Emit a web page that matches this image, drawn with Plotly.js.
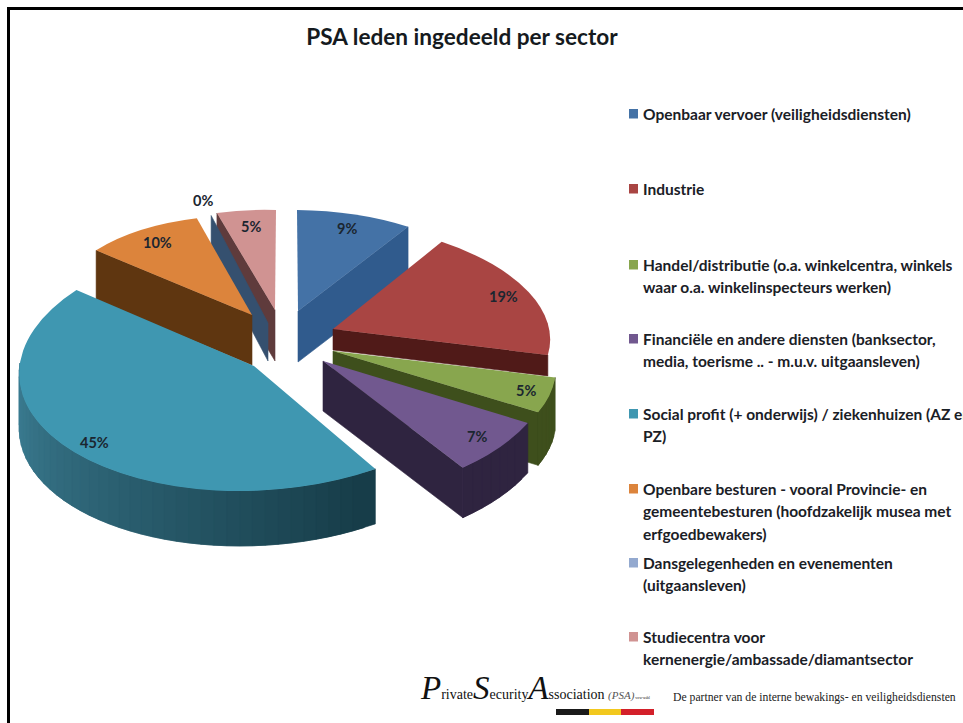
<!DOCTYPE html>
<html><head><meta charset="utf-8">
<script src="https://cdn.plot.ly/plotly-3.0.1.min.js"></script>
<style>html,body{margin:0;padding:0;background:#fff;overflow:hidden}#c{width:963px;height:723px}</style>
</head><body><div id="c"></div><script>
const categories = [
 "Openbaar vervoer (veiligheidsdiensten)",
 "Industrie",
 "Handel/distributie (o.a. winkelcentra, winkels<br>waar o.a. winkelinspecteurs werken)",
 "Financiële en andere diensten (banksector,<br>media, toerisme .. - m.u.v. uitgaansleven)",
 "Social profit (+ onderwijs) / ziekenhuizen (AZ en<br>PZ)",
 "Openbare besturen - vooral Provincie- en<br>gemeentebesturen (hoofdzakelijk musea met<br>erfgoedbewakers)",
 "Dansgelegenheden en evenementen<br>(uitgaansleven)",
 "Studiecentra voor<br>kernenergie/ambassade/diamantsector"
];
const values = [9, 19, 5, 7, 45, 10, 0, 5];
const topColors = ["#4472a6","#a94543","#88a64e","#71588f","#3f97b1","#dc843c","#93a9cf","#d09392"];
const legendY = [114, 189, 265, 339, 414, 489, 563, 637];

// Per-slice 3D projection of the exploded pie
const proj = [
 {ax:298,ay:311,rx:207,k:1,s:2,ry:101,d:51,lf:.86},
 {ax:333,ay:329,rx:217,k:9,s:6,ry:107,d:21,lf:.87},
 {ax:333,ay:351,rx:222,k:22,s:4,ry:120,d:53,lf:.89},
 {ax:323,ay:361,rx:231,k:5,s:-3,ry:134,d:50,lf:.87},
 {ax:254,ay:366,rx:234,k:-20,s:3,ry:125,d:55,lf:.89},
 {ax:252,ay:315,rx:197,k:-6,s:8,ry:99,d:50,lf:.85},
 {ax:268,ay:323,rx:184,k:0,s:0,ry:113,d:38,lf:1.14},
 {ax:275,ay:310,rx:191,k:-1,s:6,ry:100,d:51,lf:.84}
];
const total = values.reduce((a,b)=>a+b,0);
let acc = 0;
const spans = values.map(v=>{const a=acc/total*2*Math.PI; acc+=v; return [a,acc/total*2*Math.PI];});
const pt = (i,t,f=1,dz=0)=>{const g=proj[i],u=Math.sin(t),v=-Math.cos(t);
  return [g.ax+f*(g.rx*u+g.k*v), g.ay+f*(g.s*u+g.ry*v)+dz];};
const traces = [];
function poly(pts,color){
  traces.push({type:'scatter',mode:'lines',x:pts.map(p=>p[0]),y:pts.map(p=>p[1]),fill:'toself',fillcolor:color,
    line:{color:color,width:0.6},hoverinfo:'skip',showlegend:false,xaxis:'x',yaxis:'y'});
}
function cut(i,t,color){const d=proj[i].d; const a=pt(i,t,0),b=pt(i,t,1);
  poly([a,b,[b[0],b[1]+d],[a[0],a[1]+d],a],color);}
function arc(i,t0,t1,c0,c1,n){const d=proj[i].d;
  const mix=(f)=>{const q=c0.map((c,j)=>Math.round(c+(c1[j]-c)*f));return `rgb(${q[0]},${q[1]},${q[2]})`;};
  // painted from the far end, each band overlapping the one before it, so no seams show
  for(let j=n-1;j>=0;j--){const a=t0+(t1-t0)*j/n,b=t0+(t1-t0)*(j+2)/n,m=t0+(t1-t0)*(j+1)/n;
    const bb=b>t1?t1:b;const A=pt(i,a),M=pt(i,m),B=pt(i,bb);
    poly([A,M,B,[B[0],B[1]+d],[M[0],M[1]+d],[A[0],A[1]+d],A],mix((j+.5)/n));}
}
// side walls, back to front
cut(0,spans[0][1],"#305b8d");
cut(1,spans[1][1],"#501a18");
cut(2,spans[2][1],"#3e4f1c");
arc(2,spans[2][0],spans[2][1],[62,79,28],[62,79,28],6);
cut(3,spans[3][1],"#2f2440");
arc(3,spans[3][0],spans[3][1],[47,36,64],[47,36,64],8);
arc(4,spans[4][0],3*Math.PI/2,[23,60,72],[62,130,152],40);
cut(7,spans[7][0],"#5f3b3c");
cut(6,spans[6][0],"#35506f");
cut(5,spans[5][0],"#5f3610");

// the pie supplies the top faces
traces.push({type:'pie',labels:categories.map(c=>c.replace(/<br>/g,' ')),values:values,sort:false,direction:'clockwise',rotation:0,
  marker:{colors:topColors,line:{width:0}},textinfo:'none',domain:{x:[.2,.4],y:[.4,.6]},showlegend:false,hoverinfo:'label+percent'});

const FONT="Lato, 'Open Sans', sans-serif";
const annotations=[], shapes=[];
values.forEach((v,i)=>{const p=pt(i,(spans[i][0]+spans[i][1])/2,proj[i].lf);
  annotations.push({x:p[0],y:p[1],xref:'x',yref:'y',text:v+'%',showarrow:false,xanchor:'center',yanchor:'middle',
    font:{family:FONT,size:14.5,weight:700,color:'#1b2630'}});});
categories.forEach((c,i)=>{
  c.split('<br>').forEach((line,j)=>annotations.push({x:641,y:legendY[i]+j*22.4,xref:'x',yref:'y',text:line,align:'left',showarrow:false,xanchor:'left',yanchor:'middle',
    font:{family:FONT,size:15.5,weight:700,color:'#1a2026'}}));
  shapes.push({type:'rect',xref:'x',yref:'y',x0:629,x1:638,y0:legendY[i]-5,y1:legendY[i]+4.5,fillcolor:topColors[i],line:{width:0}});
});
// footer
annotations.push({x:418,y:688,xref:'x',yref:'y',xanchor:'left',yanchor:'middle',showarrow:false,
  font:{family:"'Liberation Serif', serif",size:14,color:'#111'},
  text:'<i><span style="font-size:33px">P</span></i>rivate<i><span style="font-size:33px">S</span></i>ecurity<i><span style="font-size:33px">A</span></i>ssociation <i><span style="font-size:11px;fill:#555">(PSA)</span></i><span style="font-size:4px"> vzw-asbl</span>'});
annotations.push({x:671,y:697,xref:'x',yref:'y',xanchor:'left',yanchor:'middle',showarrow:false,
  font:{family:"'Liberation Serif', serif",size:11.7,color:'#222'},
  text:'De partner van de interne bewakings- en veiligheidsdiensten'});
[["#1a1a1a",556,589],["#f2c81e",589,621],["#d3202a",621,654]].forEach(b=>
  shapes.push({type:'rect',xref:'x',yref:'y',x0:b[1],x1:b[2],y0:709,y1:715,fillcolor:b[0],line:{width:0}}));
// frame
shapes.push({type:'line',xref:'x',yref:'y',x0:7,x1:963,y0:8.5,y1:8.5,line:{color:'#000',width:3}});
shapes.push({type:'line',xref:'x',yref:'y',x0:8.5,x1:8.5,y0:7,y1:723,line:{color:'#000',width:3}});

const layout={width:963,height:723,margin:{l:0,r:0,t:0,b:0},paper_bgcolor:'#fff',plot_bgcolor:'#fff',showlegend:false,
  title:{text:'PSA leden ingedeeld per sector',x:462/963,xanchor:'center',y:1-37/723,yanchor:'middle',font:{family:FONT,size:22.6,weight:700,color:'#151a20'}},
  xaxis:{range:[0,963],domain:[0,1],visible:false,fixedrange:true},
  yaxis:{range:[723,0],domain:[0,1],visible:false,fixedrange:true},
  annotations,shapes};
Plotly.newPlot('c',traces,layout,{displayModeBar:false,staticPlot:true}).then(gd=>{
  const cd=gd.calcdata.find(c=>c[0].trace&&c[0].trace.type==='pie');
  const cx=cd[0].cx,cy=cd[0].cy,R=cd[0].r;
  gd.querySelectorAll('.pielayer .slice').forEach(s=>{
    const i=s.__data__.i,g=proj[i],p=s.querySelector('path.surface');
    if(!p) return;
    p.setAttribute('transform',`translate(${g.ax},${g.ay}) matrix(${g.rx/R},${g.s/R},${g.k/R},${g.ry/R},0,0) translate(${-cx},${-cy})`);
  });
});
</script></body></html>
